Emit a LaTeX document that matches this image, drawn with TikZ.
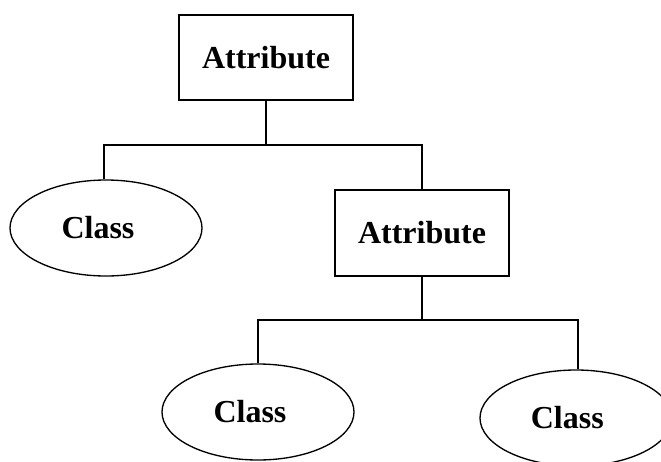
\documentclass[tikz,border=0pt]{standalone}
\usepackage{fontspec}
\setmainfont{Liberation Serif}
\usetikzlibrary{shapes.geometric}
\begin{document}
\begin{tikzpicture}[x=0.75pt,y=-0.75pt,
  every node/.style={font=\fontsize{24}{28}\selectfont\bfseries},
  attrbox/.style={draw,line width=1.5pt,rectangle,minimum width=130pt,minimum height=64pt,inner sep=0pt},
  classoval/.style={draw,line width=1pt,ellipse,minimum width=144pt,minimum height=72pt,inner sep=0pt},
  link/.style={line width=1pt}]
  \useasboundingbox (0,0) rectangle (661,461);
  \clip (0,0) rectangle (661,461);

  % nodes
  \node[attrbox] (top) at (266,57.5) {\raisebox{-3pt}{Attribute}};
  \node[attrbox] (attr) at (422,233) {\raisebox{-3pt}{Attribute}};
  \node[classoval] (cl) at (106,228) {\raisebox{-3pt}{Class}\hspace*{12pt}};
  \node[classoval] (cm) at (258,412) {\raisebox{-3pt}{Class}\hspace*{12pt}};
  \node[classoval] (cr) at (576,418) {\raisebox{-3pt}{Class}\hspace*{13pt}};

  % junctions of the tree lines
  \coordinate (j1) at (266,145);
  \coordinate (j2) at (422,320);

  % connectors
  \draw[link] (top.south) -- (j1);
  \draw[link] ([xshift=-1.5pt]cl.north) |- (j1) -| (attr.north);
  \draw[link] (attr.south) -- (j2);
  \draw[link] (cm.north) |- (j2) -| ([xshift=1.5pt]cr.north);
\end{tikzpicture}
\end{document}
